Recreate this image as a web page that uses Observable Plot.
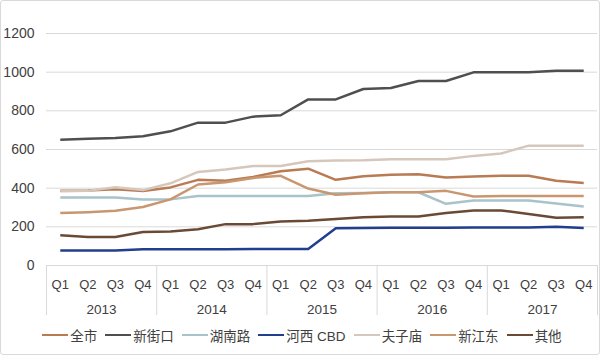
<!DOCTYPE html>
<html>
<head>
<meta charset="utf-8">
<script src="https://cdn.jsdelivr.net/npm/d3@7"></script>
<script src="https://cdn.jsdelivr.net/npm/@observablehq/plot@0.6"></script>
<style>
  html, body { margin: 0; padding: 0; background: #fff; }
  #wrap { position: relative; width: 600px; height: 355px; overflow: hidden;
    font-family: "Liberation Sans", Arial, "Noto Sans CJK SC", sans-serif; color: #404040; }
  #border { position: absolute; left: 0; top: 0; width: 600px; height: 355px; box-sizing: border-box;
    border: 1px solid #d9d9d9; border-radius: 3px; pointer-events: none; }
  #chart svg { display: block; }
  #legend { position: absolute; left: 0; top: 323px; width: 604px; height: 24px;
    display: flex; justify-content: center; align-items: center; gap: 8px;
    font-family: "Liberation Sans", "Noto Sans CJK SC", sans-serif; font-size: 13.5px; color: #404040; }
  .item { display: flex; align-items: center; gap: 2px; white-space: nowrap; }
  .sw { width: 26px; height: 2.5px; display: inline-block; }
</style>
</head>
<body>
<div id="wrap">
  <div id="chart"></div>
  <div id="legend"></div>
  <div id="border"></div>
</div>
<script>
const quarters = ["Q1", "Q2", "Q3", "Q4"];
const years = ["2013", "2014", "2015", "2016", "2017"];
const seriesNames = ["全市", "新街口", "湖南路", "河西 CBD", "夫子庙", "新江东", "其他"];
const seriesColors = ["#b87b53", "#4f4f4f", "#a8c3c9", "#213f8c", "#d6c7bc", "#c9976f", "#6a4a35"];
const yTicks = [0, 200, 400, 600, 800, 1000, 1200];

const quanshi    = [386, 388, 395, 385, 404, 443, 438, 458, 488, 501, 443, 462, 469, 472, 455, 460, 464, 464, 438, 427];
const xinjiekou  = [651, 656, 660, 668, 694, 739, 739, 770, 777, 859, 859, 913, 918, 954, 954, 999, 999, 999, 1007, 1007];
const hunanlu    = [352, 352, 352, 342, 342, 359, 359, 359, 359, 359, 374, 375, 379, 379, 319, 336, 336, 336, 321, 305];
const hexiCBD    = [78, 78, 78, 84, 84, 84, 84, 85, 85, 85, 193, 194, 195, 195, 195, 196, 196, 196, 200, 194];
const fuzimiao   = [384, 386, 405, 390, 425, 484, 496, 515, 515, 539, 543, 544, 549, 549, 549, 567, 579, 620, 620, 620];
const xinjiangdong = [271, 276, 283, 303, 342, 419, 431, 453, 464, 398, 366, 374, 379, 379, 386, 357, 360, 360, 360, 360];
const qita       = [156, 147, 147, 173, 176, 187, 214, 214, 228, 231, 240, 249, 254, 254, 271, 285, 285, 266, 247, 250];

const seriesValues = [quanshi, xinjiekou, hunanlu, hexiCBD, fuzimiao, xinjiangdong, qita];

const rows = [];
seriesNames.forEach((name, s) => {
  seriesValues[s].forEach((v, i) => rows.push({name, i, value: v}));
});

const n = years.length * quarters.length;
const qIdx = d3.range(n);
const sepPos = d3.range(years.length + 1).map(k => k * quarters.length - 0.5);
const yearCenters = years.map((y, k) => k * quarters.length + (quarters.length - 1) / 2);

const chart = Plot.plot({
  width: 600,
  height: 320,
  marginLeft: 46,
  marginRight: 3,
  marginTop: 33,
  marginBottom: 55,
  style: {fontFamily: '"Liberation Sans", Arial, sans-serif', color: "#404040", background: "transparent"},
  x: {type: "linear", domain: [-0.5, n - 0.5], axis: null},
  y: {domain: [0, 1200], axis: null},
  color: {domain: seriesNames, range: seriesColors},
  marks: [
    Plot.gridY(yTicks, {stroke: "#d9d9d9", strokeOpacity: 1, strokeWidth: 1}),
    Plot.axisY(yTicks, {tickSize: 0, tickPadding: 12, fontSize: 14, fill: "#404040", label: null, tickFormat: d => String(d)}),
    Plot.ruleY([0], {stroke: "#d9d9d9", strokeWidth: 1}),
    Plot.axisX(sepPos, {tickSize: 50, stroke: "#d9d9d9", strokeOpacity: 1, label: null, tickFormat: () => ""}),
    Plot.axisX(qIdx, {tickSize: 0, tickPadding: 14.5, fontSize: 13, fill: "#404040", label: null, tickFormat: i => quarters[i % quarters.length]}),
    Plot.axisX(yearCenters, {tickSize: 0, tickPadding: 39, fontSize: 13.5, fill: "#404040", label: null, tickFormat: (d, k) => years[k]}),
    Plot.lineY(rows, {x: "i", y: "value", z: "name", stroke: "name", strokeWidth: 2.5, strokeLinejoin: "round", strokeLinecap: "butt"})
  ]
});
document.getElementById("chart").appendChild(chart);

const legend = document.getElementById("legend");
seriesNames.forEach((name, s) => {
  const item = document.createElement("div");
  item.className = "item";
  const sw = document.createElement("span");
  sw.className = "sw";
  sw.style.background = seriesColors[s];
  const t = document.createElement("span");
  t.textContent = name;
  item.appendChild(sw);
  item.appendChild(t);
  legend.appendChild(item);
});
</script>
</body>
</html>
